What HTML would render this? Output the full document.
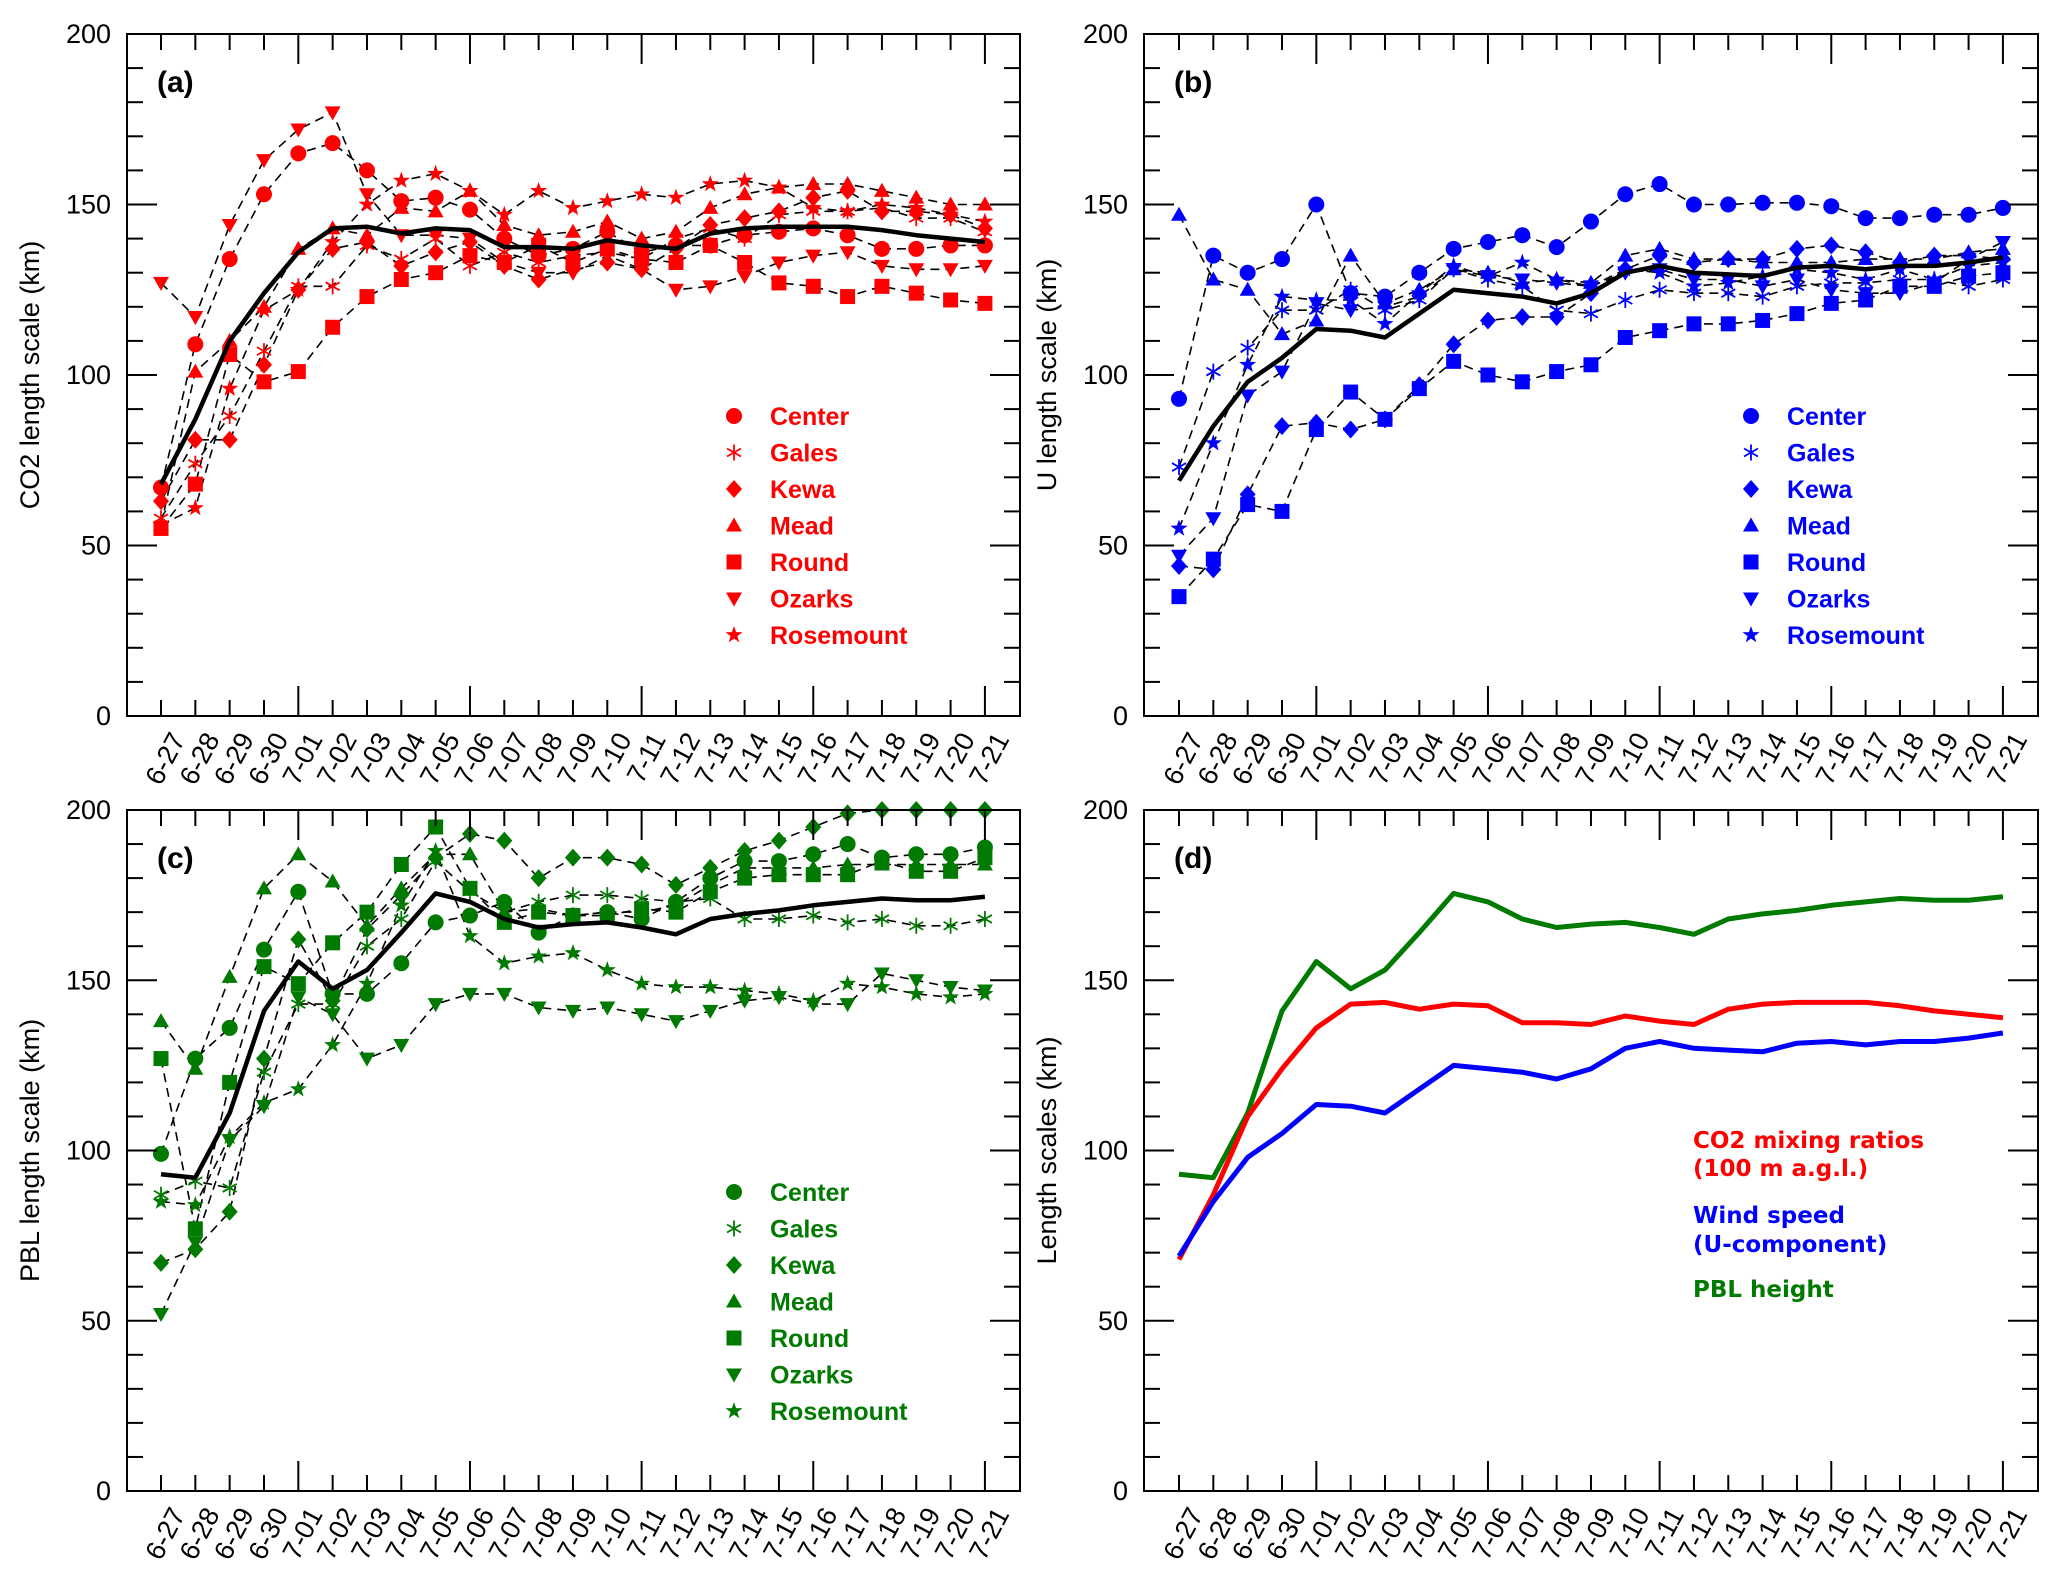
<!DOCTYPE html>
<html><head><meta charset="utf-8"><style>
html,body{margin:0;padding:0;background:#fff;}
svg{display:block;font-family:"Liberation Sans",Arial,sans-serif;}
</style></head><body>
<svg id="fig" width="2068" height="1581" viewBox="0 0 2068 1581" xmlns="http://www.w3.org/2000/svg"></svg>
<script>
const dates = ["6-27","6-28","6-29","6-30","7-01","7-02","7-03","7-04","7-05","7-06","7-07","7-08","7-09","7-10","7-11","7-12","7-13","7-14","7-15","7-16","7-17","7-18","7-19","7-20","7-21"];
const yTicks = [0,50,100,150,200];
const stations = ["Center","Gales","Kewa","Mead","Round","Ozarks","Rosemount"];

const co2Mean = [68,87,110,124,136,143,143.5,141.5,143,142.5,137.5,137.5,137,139.5,138,137,141.5,143,143.5,143.5,143.5,142.5,141,140,139];
const co2Center = [67,109,134,153,165,168,160,151,152,148.5,140,135,137,142,136,138,138,141,142,143,141,137,137,138,138];
const co2Gales = [58,74,88,107,126,126,138,134,140,132,136,133,135,136,134,140,143,140,147,148,148,149,146,146,142];
const co2Kewa = [63,81,81,103,125,137,139,132,136,139,132,128,131,133,131,137,144,146,148,152,154,148,148,147,143];
const co2Mead = [56,101,110,120,137,143,141,149,148,154,144,141,142,145,140,142,149,153,155,156,156,154,152,150,150];
const co2Round = [55,68,106,98,101,114,123,128,130,135,133,138,133,137,134,133,138,133,127,126,123,126,124,122,121];
const co2Ozarks = [127,117,144,163,172,177,153,141,141,140,133,130,130,135,131,125,126,129,133,135,136,132,131,131,132];
const co2Rosemount = [56,61,96,119,125,139,150,157,159,154,147,154,149,151,153,152,156,157,155,149,148,150,149,147,145];

const uMean = [69,85,98,105,113.5,113,111,118,125,124,123,121,124,130,132,130,129.5,129,131.5,132,131,132,132,133,134.5];
const uCenter = [93,135,130,134,150,124,123,130,137,139,141,137.5,145,153,156,150,150,150.5,150.5,149.5,146,146,147,147,149];
const uGales = [73,101,108,119,119,125,119,122,131,128,126,119,118,122,125,124,124,123,126,127,127,128,128,126,128];
const uKewa = [44,43,65,85,86,84,87,97,109,116,117,117,124,131,135,133,134,134,137,138,136,133,135,135,134];
const uMead = [147,128,125,112,116,135,121,125,131,130,127,128,127,135,137,134,134,133,133,133,134,134,134,136,137];
const uRound = [35,46,62,60,84,95,87,96,104,100,98,101,103,111,113,115,115,116,118,121,122,126,126,129,130];
const uOzarks = [47,58,94,101,121,119,120,123,131,129,128,127,126,130,131,128,128,126,128,125,124,124,127,134,139];
const uRosemount = [55,80,103,123,122,122,115,124,132,129,133,128,126,131,130,126,127,129,131,130,128,131,128,132,133];

const pblMean = [93,92,111,141,155.5,147.5,153,164,175.5,173,168,165.5,166.5,167,165.5,163.5,168,169.5,170.5,172,173,174,173.5,173.5,174.5];
const pblCenter = [99,127,136,159,176,146,146,155,167,169,173,164,169,170,168,173,180,185,185,187,190,186,187,187,189];
const pblGales = [87,91,89,123,143,143,160,168,185,176,170,173,175,175,174,173,174,168,168,169,167,168,166,166,168];
const pblKewa = [67,71,82,127,162,144,165,175,186,193,191,180,186,186,184,178,183,188,191,195,199,200,200,200,200];
const pblMead = [138,124,151,177,187,179,166,177,187,187,170,171,169,170,170,172,178,183,183,183,184,184,184,184,184];
const pblRound = [127,77,120,154,149,161,170,184,195,177,167,170,169,169,171,170,176,180,181,181,181,185,182,182,186];
const pblOzarks = [52,73,103,113,145,140,127,131,143,146,146,142,141,142,140,138,141,144,145,143,143,152,150,148,147];
const pblRosemount = [85,84,104,114,118,131,149,172,188,163,155,157,158,153,149,148,148,147,146,144,149,148,146,145,146];

const NS="http://www.w3.org/2000/svg";
const svg=document.getElementById('fig');
function mk(tag,attrs,parent){const e=document.createElementNS(NS,tag);for(const k in attrs)e.setAttribute(k,attrs[k]);(parent||svg).appendChild(e);return e;}

const DX=34.33;
function makePanel(L,T,R,B,x0){
  return {L,T,R,B,x:i=>x0+i*DX,y:v=>B-(v/200)*(B-T)};
}

function drawAxes(p,g,title,label){
  mk('rect',{x:p.L,y:p.T,width:p.R-p.L,height:p.B-p.T,fill:'none',stroke:'#000','stroke-width':2},g);
  dates.forEach((d,i)=>{
    const x=p.x(i);const len=(i%5===4)?30:16;
    mk('line',{x1:x,x2:x,y1:p.B,y2:p.B-len,stroke:'#000','stroke-width':2},g);
    mk('line',{x1:x,x2:x,y1:p.T,y2:p.T+len,stroke:'#000','stroke-width':2},g);
    const t=mk('text',{x:x+8,y:p.B+14,'font-size':27,'text-anchor':'end',transform:`rotate(-62 ${x+8} ${p.B+14})`,'dominant-baseline':'hanging'},g);
    
    
    t.textContent=d;
  });
  for(let v=10;v<200;v+=10){
    const y=p.y(v);const len=(v%50===0)?30:16;
    mk('line',{x1:p.L,x2:p.L+len,y1:y,y2:y,stroke:'#000','stroke-width':2},g);
    mk('line',{x1:p.R,x2:p.R-len,y1:y,y2:y,stroke:'#000','stroke-width':2},g);
  }
  yTicks.forEach(v=>{
    const t=mk('text',{x:p.L-16,y:p.y(v)+9,'font-size':27,'text-anchor':'end'},g);
    
    
    t.textContent=v;
  });
  const cy=(p.T+p.B)/2;
  const yt=mk('text',{x:p.L-88,y:cy,'font-size':27,'text-anchor':'middle',transform:`rotate(-90 ${p.L-88} ${cy})`},g);
  
  
  yt.textContent=title;
  const pl=mk('text',{x:p.L+30,y:p.T+58,'font-size':30,'font-weight':'bold'},g);
  
  
  pl.textContent=label;
}

function marker(type,cx,cy,col,g){
  const s=8;
  let e;
  if(type===0) e=mk('circle',{cx,cy,r:s,fill:col},g);
  else if(type===1){
    e=mk('path',{d:`M${cx} ${cy-s}V${cy+s}M${cx-7} ${cy-4}L${cx+7} ${cy+4}M${cx-7} ${cy+4}L${cx+7} ${cy-4}`,stroke:col,'stroke-width':1.8,fill:'none'},g);
  }
  else if(type===2) e=mk('path',{d:`M${cx} ${cy-s-1}L${cx+s} ${cy}L${cx} ${cy+s+1}L${cx-s} ${cy}Z`,fill:col},g);
  else if(type===3) e=mk('path',{d:`M${cx} ${cy-s}L${cx+s} ${cy+6}L${cx-s} ${cy+6}Z`,fill:col},g);
  else if(type===4) e=mk('rect',{x:cx-7.5,y:cy-7.5,width:15,height:15,fill:col},g);
  else if(type===5) e=mk('path',{d:`M${cx} ${cy+s}L${cx+s} ${cy-6}L${cx-s} ${cy-6}Z`,fill:col},g);
  else {
    let d='';for(let k=0;k<10;k++){const r=k%2?3.6:9;const a=-Math.PI/2+k*Math.PI/5;d+=(k?'L':'M')+(cx+r*Math.cos(a)).toFixed(1)+' '+(cy+r*Math.sin(a)).toFixed(1);}
    e=mk('path',{d:d+'Z',fill:col},g);
  }
  
  
}

function pathOf(p,vals){return vals.map((v,i)=>(i?'L':'M')+p.x(i).toFixed(1)+' '+p.y(v).toFixed(1)).join('');}

function stationPanel(p,name,series,mean,col,title,label){
  const g=mk('g',{});
  
  
  series.forEach(s=>{
    const l=mk('path',{d:pathOf(p,s),fill:'none',stroke:'#000','stroke-width':1.6,'stroke-dasharray':'9 6'},g);
    
    
  });
  series.forEach((s,k)=>s.forEach((v,i)=>marker(k,p.x(i),p.y(v),col,g)));
  const m=mk('path',{d:pathOf(p,mean),fill:'none',stroke:'#000','stroke-width':4.5,'stroke-linejoin':'round'},g);
  
  
  drawAxes(p,g,title,label);
  const lx=p.L+607, ly=p.T+382;
  stations.forEach((s,k)=>{
    const yy=ly+k*36.5;
    marker(k,lx,yy,col,g);
    const t=mk('text',{x:lx+36,y:yy+9,'font-size':25,'font-weight':'bold',fill:col},g);
    
    
    t.textContent=s;
  });
}

const pa=makePanel(127,34,1020,716,161);
const pb=makePanel(1144,34,2038,716,1179);
const pc=makePanel(127,810,1020,1491,161);
const pd=makePanel(1144,810,2038,1491,1179);
const RED='#ff0000',BLUE='#0000ff',GREEN='#007a00';
stationPanel(pa,'panel-a-co2',[co2Center,co2Gales,co2Kewa,co2Mead,co2Round,co2Ozarks,co2Rosemount],co2Mean,RED,'CO2 length scale (km)','(a)');
stationPanel(pb,'panel-b-u',[uCenter,uGales,uKewa,uMead,uRound,uOzarks,uRosemount],uMean,BLUE,'U length scale (km)','(b)');
stationPanel(pc,'panel-c-pbl',[pblCenter,pblGales,pblKewa,pblMead,pblRound,pblOzarks,pblRosemount],pblMean,GREEN,'PBL length scale (km)','(c)');

const gd=mk('g',{});


[[pblMean,GREEN,'pbl-line'],[co2Mean,RED,'co2-line'],[uMean,BLUE,'u-line']].forEach(([s,c,n])=>{
  const l=mk('path',{d:pathOf(pd,s),fill:'none',stroke:c,'stroke-width':5,'stroke-linejoin':'round'},gd);
  
  
});
drawAxes(pd,gd,'Length scales (km)','(d)');
[['CO2 mixing ratios',1148,RED],['(100 m a.g.l.)',1176,RED],['Wind speed',1223,BLUE],['(U-component)',1252,BLUE],['PBL height',1297,GREEN]].forEach(([t,y,c])=>{
  const e=mk('text',{x:1693,y:y,'font-size':23,'font-weight':'bold',fill:c,'font-family':'DejaVu Sans, sans-serif'},gd);
  
  
  e.textContent=t;
});
</script>
</body></html>
